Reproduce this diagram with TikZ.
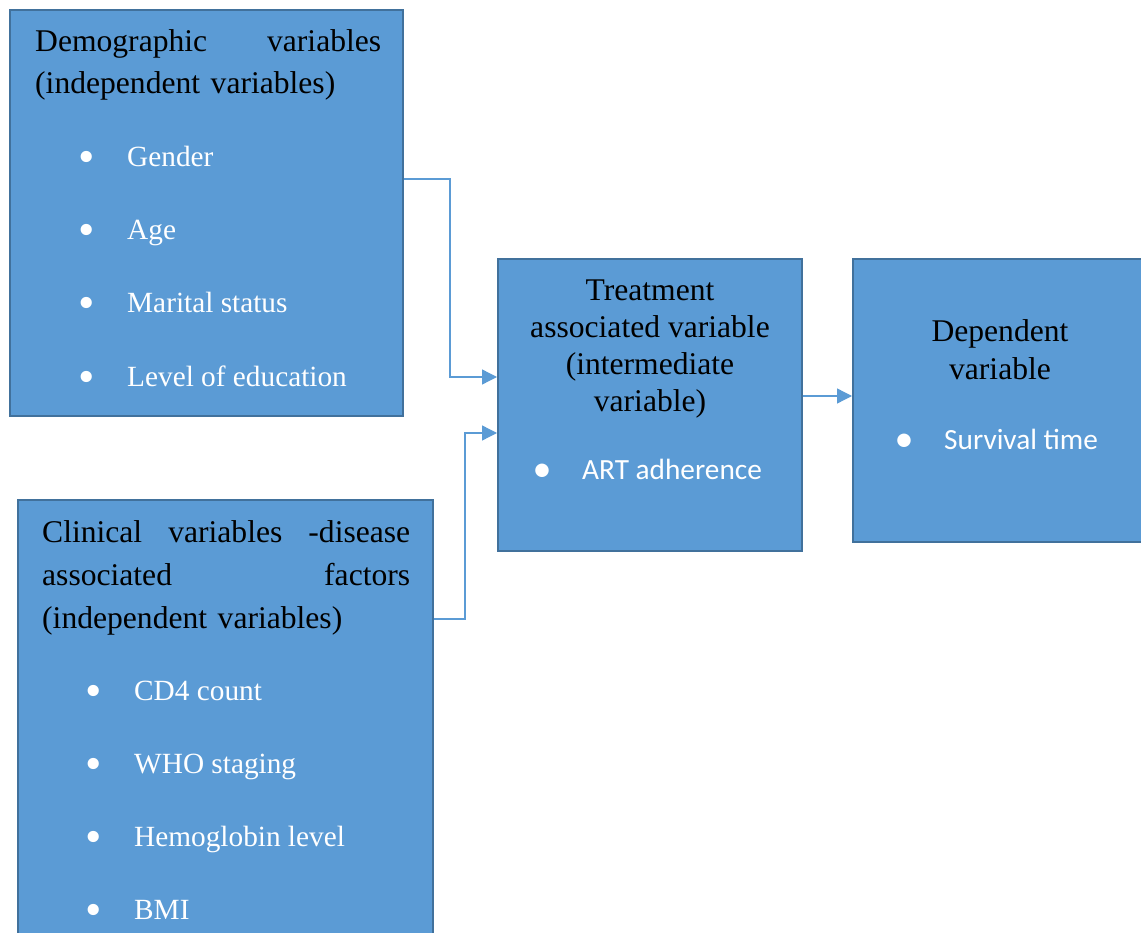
\documentclass[tikz,border=0pt]{standalone}
\usepackage{fontspec}
\setmainfont{Liberation Serif}
\newfontfamily\calibri{Carlito}
\usepackage{graphicx}
\usetikzlibrary{arrows.meta,fit,calc}
\definecolor{boxblue}{HTML}{5B9BD5}
\definecolor{boxedge}{HTML}{41719C}
% bullet item: dot, then the text (\itmc for the sans items)
\newcommand{\itm}[1]{\makebox[10pt]{\raisebox{-6pt}{\scalebox{1.6}{\textbullet}}}\hspace{35pt}#1}
\newcommand{\itmc}[1]{\makebox[10pt]{\raisebox{-2.5pt}{\scalebox{1.3}{\textbullet}}}\hspace{35pt}#1}

\begin{document}
\begin{tikzpicture}[x=1pt,y=-1pt,
  box/.style={draw=boxedge,fill=boxblue,line width=2pt,inner sep=0pt},
  head/.style={inner sep=0pt,font=\fontsize{31.6}{42}\selectfont},
  item/.style={inner sep=0pt,anchor=base west,text=white,font=\fontsize{29.3}{34}\selectfont},
  link/.style={draw=boxblue,line width=1.3pt,-{Triangle[length=15pt,width=15pt]}}]
\useasboundingbox (0,0) rectangle (1141,933);
% boxes
\node[box,fit={(10,10) (403,416)}] (demo) {};
\node[box,fit={(18,500) (433,950)}] (clin) {};
\node[box,fit={(498,259) (802,551)}] (treat) {};
\node[box,fit={(853,259) (1145,542)}] (dep) {};
% demographic
\node[head,anchor=base west,text width=346pt,align=left] (demohead) at (35,52) {Demographic\hfill variables\\(independent variables)};
\node[item] (gender) at (82,167) {\itm{Gender}};
\node[item] (age) at (82,240) {\itm{Age}};
\node[item] (marital) at (82,313) {\itm{Marital status}};
\node[item] (educ) at (82,386) {\itm{Level of education}};
% clinical
\node[head,anchor=base west,text width=368pt,align=left,font=\fontsize{31.6}{43}\selectfont] (clinhead) at (42,542) {Clinical\hfill variables\hfill -disease\\associated\hfill factors\\(independent variables)};
\node[item] (cd4) at (89,700) {\itm{CD4 count}};
\node[item] (who) at (89,773) {\itm{WHO staging}};
\node[item] (hb) at (89,846) {\itm{Hemoglobin level}};
\node[item] (bmi) at (89,919) {\itm{BMI}};
% treatment and dependent (base = last line)
\node[head,anchor=base,align=center,font=\fontsize{31.6}{37}\selectfont] (treathead) at (650,411) {Treatment\\associated variable\\(intermediate\\variable)};
\node[item,font=\calibri\fontsize{29.3}{34}\selectfont] (art) at (537,479) {\itmc{ART adherence}};
\node[head,anchor=base,align=center,font=\fontsize{31.6}{37}\selectfont] (dephead) at (1000,379) {Dependent\\variable};
\node[item,font=\calibri\fontsize{29.3}{34}\selectfont] (surv) at (899,449) {\itmc{Survival time}};
% connectors
\coordinate (j1) at (450,377);
\coordinate (j2) at (465,433);
\draw[link] ($(demo.north east)+(0,170)$) -| (j1) -- (treat.west |- j1);
\draw[link] ($(clin.north east)+(0,120)$) -| (j2) -- (treat.west |- j2);
\draw[link] ($(treat.north east)+(0,138)$) -- ($(dep.north west)+(0,138)$);
\end{tikzpicture}
\end{document}
